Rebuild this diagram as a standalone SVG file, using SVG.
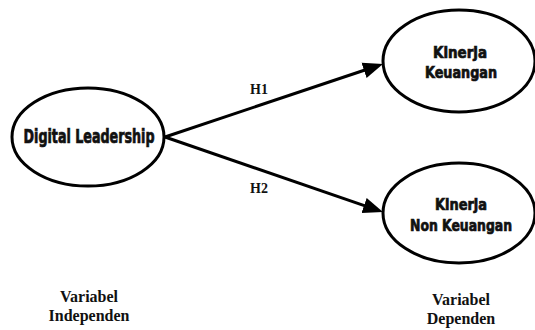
<svg xmlns="http://www.w3.org/2000/svg" width="535" height="330" viewBox="0 0 535 330">
<style>
.node ellipse{fill:#fff;stroke:#000;stroke-width:3}
.nt{font-family:"DejaVu Sans Condensed","DejaVu Sans",sans-serif;font-weight:bold;font-stretch:condensed;fill:#111;stroke:#111;stroke-width:0.7;text-anchor:middle}
.lbl{font-family:"Liberation Serif","Times New Roman",serif;font-weight:bold;fill:#111;text-anchor:middle}
.conn line{stroke:#000;stroke-width:3}
</style>
<defs>
<marker id="ah" markerUnits="userSpaceOnUse" markerWidth="22" markerHeight="18" viewBox="0 -9 22 18" refX="1" refY="0" orient="auto">
<path d="M0,-8 L20,0 L0,8 z" fill="#000"/>
</marker>
</defs>
<rect width="535" height="330" fill="#fff"/>
<g id="connectors" class="conn">
<line x1="165" y1="137" x2="364.98" y2="70.03" marker-end="url(#ah)"/>
<line x1="165" y1="137" x2="365.03" y2="205.82" marker-end="url(#ah)"/>
</g>
<g id="node-digital-leadership" class="node">
<ellipse cx="88" cy="137" rx="76" ry="49"/>
<text class="nt" x="89" y="143" font-size="19" textLength="131" lengthAdjust="spacingAndGlyphs">Digital Leadership</text>
</g>
<g id="node-kinerja-keuangan" class="node">
<ellipse cx="459" cy="61" rx="76" ry="51"/>
<text class="nt" x="460" y="58" font-size="16" textLength="54" lengthAdjust="spacingAndGlyphs">Kinerja</text>
<text class="nt" x="461" y="78" font-size="16" textLength="72" lengthAdjust="spacingAndGlyphs">Keuangan</text>
</g>
<g id="node-kinerja-non-keuangan" class="node">
<ellipse cx="459" cy="213" rx="76" ry="50"/>
<text class="nt" x="461" y="210" font-size="16" textLength="52" lengthAdjust="spacingAndGlyphs">Kinerja</text>
<text class="nt" x="461" y="231" font-size="16" textLength="102" lengthAdjust="spacingAndGlyphs">Non Keuangan</text>
</g>
<g id="edge-labels">
<text class="lbl" x="259" y="94" font-size="14">H1</text>
<text class="lbl" x="259" y="193" font-size="14">H2</text>
</g>
<g id="captions">
<text class="lbl" x="89" y="302" font-size="16">Variabel</text>
<text class="lbl" x="89" y="321" font-size="16">Independen</text>
<text class="lbl" x="461" y="305" font-size="16">Variabel</text>
<text class="lbl" x="461" y="324" font-size="16">Dependen</text>
</g>
</svg>
